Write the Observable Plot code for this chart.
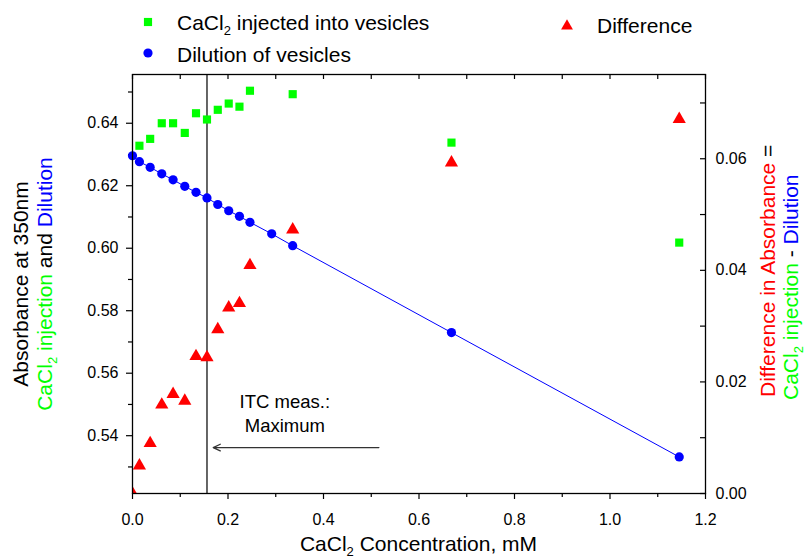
<!DOCTYPE html>
<html><head><meta charset="utf-8">
<script src="https://cdn.jsdelivr.net/npm/d3@7"></script>
<script src="https://cdn.jsdelivr.net/npm/@observablehq/plot@0.6"></script>
<style>body{margin:0;background:#fff;} svg{display:block}</style>
</head><body><div id="chart"></div>
<script>
// ---- data ----
const injX   = [0.0145, 0.037, 0.0613, 0.085, 0.1095, 0.133, 0.156, 0.1786, 0.2015, 0.224, 0.246, 0.3355, 0.668, 1.145];
const injAbs = [0.6328, 0.6350, 0.6400, 0.6400, 0.6369, 0.6432, 0.6412, 0.6443, 0.6463, 0.6453, 0.6504, 0.6493, 0.6338, 0.6018];
const dilX   = [0, 0.0145, 0.037, 0.0613, 0.085, 0.1095, 0.133, 0.156, 0.1786, 0.2015, 0.224, 0.246, 0.2915, 0.3355, 0.668, 1.145];
const dilAbs = [0.6296, 0.6277, 0.6259, 0.6238, 0.6219, 0.6198, 0.6179, 0.6161, 0.6140, 0.6120, 0.6102, 0.6083, 0.6046, 0.6008, 0.5730, 0.5332];
const diffX   = [0, 0.0145, 0.037, 0.0613, 0.085, 0.1095, 0.133, 0.156, 0.1786, 0.2015, 0.224, 0.246, 0.3355, 0.668, 1.145];
const diffAbs = [0.0000, 0.0050, 0.0090, 0.0159, 0.0178, 0.0166, 0.0246, 0.0244, 0.0294, 0.0333, 0.0341, 0.0409, 0.0473, 0.0593, 0.0671];

const xMajorTicks = [0, 0.2, 0.4, 0.6, 0.8, 1.0, 1.2];
const xMinorTicks = [0.1, 0.3, 0.5, 0.7, 0.9, 1.1];
const yLeftMajor  = [0.54, 0.56, 0.58, 0.60, 0.62, 0.64];
const yLeftMinor  = [0.53, 0.55, 0.57, 0.59, 0.61, 0.63, 0.65];
const yRightMajor = [0.00, 0.02, 0.04, 0.06];
const yRightMinor = [0.01, 0.03, 0.05, 0.07];

const itcX = [0.156];
const arrowX1 = [0.516], arrowX2 = [0.169], arrowY = [0.5362];
const noteLines = ["ITC meas.:", "Maximum"];
const noteX = [0.319, 0.319];
const noteY = [0.5507, 0.5431];

// ---- layout ----
const W = 805, H = 559, mL = 132, mR = 100, mT = 74, mB = 66;
const xDom = [0, 1.2];
const yDom = [0.5215, 0.6556];
const rDom = [0, 0.0751];
const toLeft = v => yDom[0] + (v - rDom[0]) * (yDom[1] - yDom[0]) / (rDom[1] - rDom[0]);
const xPerPx = (xDom[1] - xDom[0]) / (W - mL - mR);
const yPerPx = (yDom[1] - yDom[0]) / (H - mT - mB);
const FONT = "'Liberation Sans', Arial, sans-serif";
const GREEN = "#00ff00", BLUE = "#0000ff", RED = "#ff0000";

const inj  = injX.map((x, i) => ({x, y: injAbs[i]}));
const dil  = dilX.map((x, i) => ({x, y: dilAbs[i]}));
const diff = diffX.map((x, i) => ({x, y: diffAbs[i]}));

const chart = Plot.plot({
  width: W, height: H,
  marginLeft: mL, marginRight: mR, marginTop: mT, marginBottom: mB,
  style: {fontFamily: FONT, fontSize: "16px", color: "black", background: "white", overflow: "visible"},
  x: {domain: xDom, axis: null},
  y: {domain: yDom, axis: null},
  marks: [
    // ticks
    Plot.ruleX(xMajorTicks, {x: d => d, y1: yDom[0], y2: yDom[0] - 6 * yPerPx, stroke: "black", strokeWidth: 1.2}),
    Plot.ruleX(xMinorTicks, {x: d => d, y1: yDom[0], y2: yDom[0] - 4 * yPerPx, stroke: "black", strokeWidth: 1.2}),
    Plot.ruleX(xMajorTicks.concat(xMinorTicks), {x: d => d, y1: yDom[1], y2: yDom[1] - 5 * yPerPx, stroke: "black", strokeWidth: 1.2}),
    Plot.ruleY(yLeftMajor, {y: d => d, x1: 0, x2: -6 * xPerPx, stroke: "black", strokeWidth: 1.2}),
    Plot.ruleY(yLeftMinor, {y: d => d, x1: 0, x2: -4 * xPerPx, stroke: "black", strokeWidth: 1.2}),
    Plot.ruleY(yRightMajor.concat(yRightMinor), {y: d => toLeft(d), x1: xDom[1], x2: xDom[1] - 5 * xPerPx, stroke: "black", strokeWidth: 1.2}),
    // tick labels
    Plot.text(xMajorTicks, {x: d => d, y: yDom[0], dy: 20, lineAnchor: "top", text: d => d.toFixed(1), fontSize: 16, fill: "black"}),
    Plot.text(yLeftMajor, {x: 0, y: d => d, dx: -14, textAnchor: "end", text: d => d.toFixed(2), fontSize: 16, fill: "black"}),
    Plot.text(yRightMajor, {x: xDom[1], y: d => toLeft(d), dx: 10, textAnchor: "start", text: d => d.toFixed(2), fontSize: 16, fill: "black"}),
    // annotation
    Plot.ruleX(itcX, {x: d => d, stroke: "black", strokeWidth: 1.2}),
    Plot.arrow(arrowX1, {x1: d => d, x2: (d, i) => arrowX2[i], y1: (d, i) => arrowY[i], y2: (d, i) => arrowY[i], stroke: "#333", strokeWidth: 1.3, headLength: 9, headAngle: 50}),
    Plot.text(noteLines, {x: (d, i) => noteX[i], y: (d, i) => noteY[i], text: d => d, fontSize: 18.5, fill: "black"}),
    // data
    Plot.line(dil, {x: "x", y: "y", stroke: BLUE, strokeWidth: 1}),
    Plot.dot(inj, {x: "x", y: "y", symbol: "square", r: 4.6, fill: GREEN}),
    Plot.dot(dil, {x: "x", y: "y", symbol: "circle", r: 4.6, fill: BLUE}),
    Plot.dot(diff, {x: "x", y: d => toLeft(d.y), symbol: "triangle", r: 4.9, fill: RED, clip: true}),
    Plot.frame({stroke: "black", strokeWidth: 1.3})
  ]
});
document.getElementById("chart").appendChild(chart);

// ---- titles and legend (rich text) ----
const svg = d3.select(chart);
function rich(parent, parts, fs, anchor) {
  const t = parent.append("text").attr("font-family", FONT).attr("font-size", fs)
    .attr("text-anchor", anchor || "start");
  let shifted = false;
  for (const p of parts) {
    const ts = t.append("tspan").text(p.t).attr("fill", p.c || "black");
    if (p.sub) { ts.attr("font-size", fs * 0.62).attr("dy", fs * 0.22); shifted = true; }
    else if (shifted) { ts.attr("dy", -fs * 0.22); shifted = false; }
  }
  return t;
}
const TF = 21;
// x axis title
rich(svg.append("g").attr("transform", `translate(${(mL + W - mR) / 2},551)`),
  [{t: "CaCl"}, {t: "2", sub: true}, {t: " Concentration, mM"}], TF, "middle");
// left titles (centered)
rich(svg.append("g").attr("transform", "translate(28,284) rotate(-90)"),
  [{t: "Absorbance at 350nm"}], TF, "middle");
rich(svg.append("g").attr("transform", "translate(52,284) rotate(-90)"),
  [{t: "CaCl", c: GREEN}, {t: "2", c: GREEN, sub: true}, {t: " injection", c: GREEN}, {t: " and "}, {t: "Dilution", c: BLUE}], TF, "middle");
// right titles
rich(svg.append("g").attr("transform", "translate(775,397) rotate(-90)"),
  [{t: "Difference in Absorbance", c: RED}, {t: " ="}], TF);
rich(svg.append("g").attr("transform", "translate(798,400) rotate(-90)"),
  [{t: "CaCl", c: GREEN}, {t: "2", c: GREEN, sub: true}, {t: " injection", c: GREEN}, {t: " - "}, {t: "Dilution", c: BLUE}], TF);

// legend
const sym = (type, r) => d3.symbol(type, Math.PI * r * r)();
const lg = svg.append("g");
lg.append("path").attr("d", sym(d3.symbolSquare, 4.6)).attr("transform", "translate(148,22)").attr("fill", GREEN);
rich(lg.append("g").attr("transform", "translate(177,30)"), [{t: "CaCl"}, {t: "2", sub: true}, {t: " injected into vesicles"}], TF);
lg.append("path").attr("d", sym(d3.symbolCircle, 4.6)).attr("transform", "translate(148,53)").attr("fill", BLUE);
rich(lg.append("g").attr("transform", "translate(177,62)"), [{t: "Dilution of vesicles"}], TF);
lg.append("path").attr("d", sym(d3.symbolTriangle, 4.4)).attr("transform", "translate(567,26)").attr("fill", RED);
rich(lg.append("g").attr("transform", "translate(597,33)"), [{t: "Difference"}], TF);
</script>
</body></html>
